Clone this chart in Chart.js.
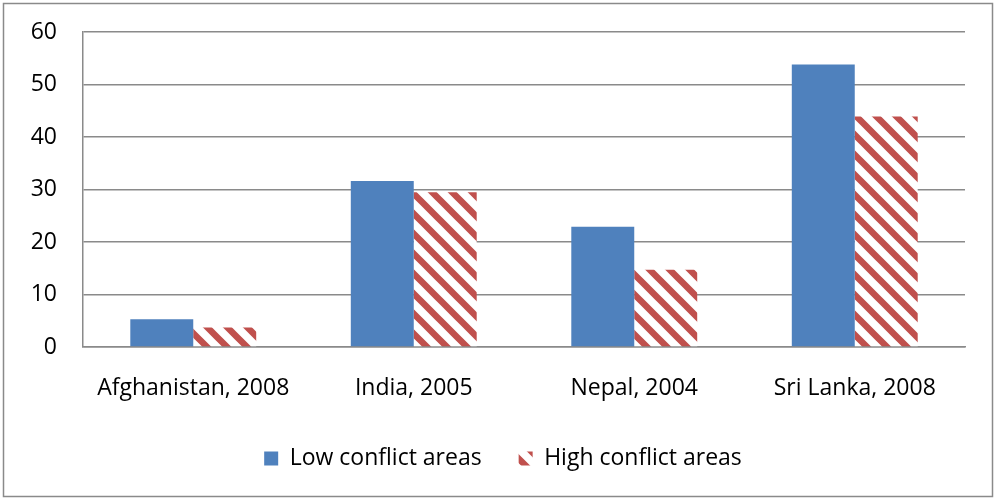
<!DOCTYPE html>
<html><head><meta charset="utf-8">
<script src="https://cdn.jsdelivr.net/npm/chart.js@4/dist/chart.umd.min.js"></script>
<style>html,body{margin:0;padding:0;background:#fff}#w{width:995px;height:498px}</style>
</head><body><div id="w"><canvas id="c" width="995" height="498"></canvas></div>
<script>
const categories = ["Afghanistan, 2008", "India, 2005", "Nepal, 2004", "Sri Lanka, 2008"];
const lowConflict = [5.3, 31.6, 22.9, 53.8];
const highConflict = [3.7, 29.5, 14.7, 43.9];
const seriesNames = ["Low conflict areas", "High conflict areas"];

function stripePattern() {
  const s = 20;
  const pc = document.createElement('canvas');
  pc.width = s; pc.height = s;
  const g = pc.getContext('2d');
  g.fillStyle = '#ffffff'; g.fillRect(0, 0, s, s);
  g.strokeStyle = '#C0504D'; g.lineWidth = 6.5;
  g.beginPath();
  g.moveTo(-s, 0); g.lineTo(s, 2 * s);
  g.moveTo(0, 0); g.lineTo(s, s);
  g.moveTo(0, -s); g.lineTo(2 * s, s);
  g.stroke();
  return document.getElementById('c').getContext('2d').createPattern(pc, 'repeat');
}

const frame = {
  id: 'frame',
  afterLayout(chart) {
    // widen the y-axis label clip region so tick labels are not cut off
    chart.scales.y.left = 4;
  },
  afterDraw(chart) {
    const ctx = chart.ctx;
    ctx.save();
    ctx.strokeStyle = '#8a8a8a'; ctx.lineWidth = 1.5;
    ctx.strokeRect(3.5, 3.5, 989, 493);
    ctx.restore();
  }
};

const font = "'Open Sans', Lato, sans-serif";
new Chart(document.getElementById('c'), {
  type: 'bar',
  data: {
    labels: categories,
    datasets: [
      { label: seriesNames[0], data: lowConflict, backgroundColor: '#4F81BD', borderWidth: 0 },
      { label: seriesNames[1], data: highConflict, backgroundColor: stripePattern(), borderWidth: 0 }
    ]
  },
  options: {
    responsive: false, animation: false,
    layout: { padding: { top: 32, right: 30, left: 41, bottom: 18 } },
    plugins: {
      tooltip: { enabled: false },
      legend: {
        position: 'bottom',
        labels: { color: '#000', font: { family: font, size: 23 }, boxWidth: 14, boxHeight: 14, padding: 37 }
      }
    },
    datasets: { bar: { categoryPercentage: 0.571, barPercentage: 1 } },
    scales: {
      x: {
        grid: { display: false, drawTicks: false },
        border: { color: '#8a8a8a', width: 1.5 },
        ticks: { color: '#000', font: { family: font, size: 23 }, padding: 28, maxRotation: 0 },
        afterFit(s) { s.height = 63; }
      },
      y: {
        min: 0, max: 60,
        grid: { color: '#8a8a8a', lineWidth: 1.5, drawTicks: false },
        border: { display: true, color: '#8a8a8a', width: 1.5 },
        ticks: { stepSize: 10, color: '#000', font: { family: font, size: 23 }, padding: 26 },
        afterFit(s) { s.width = 42; s.paddingTop = 0; s.paddingBottom = 0; }
      }
    }
  },
  plugins: [frame]
});
</script></body></html>
